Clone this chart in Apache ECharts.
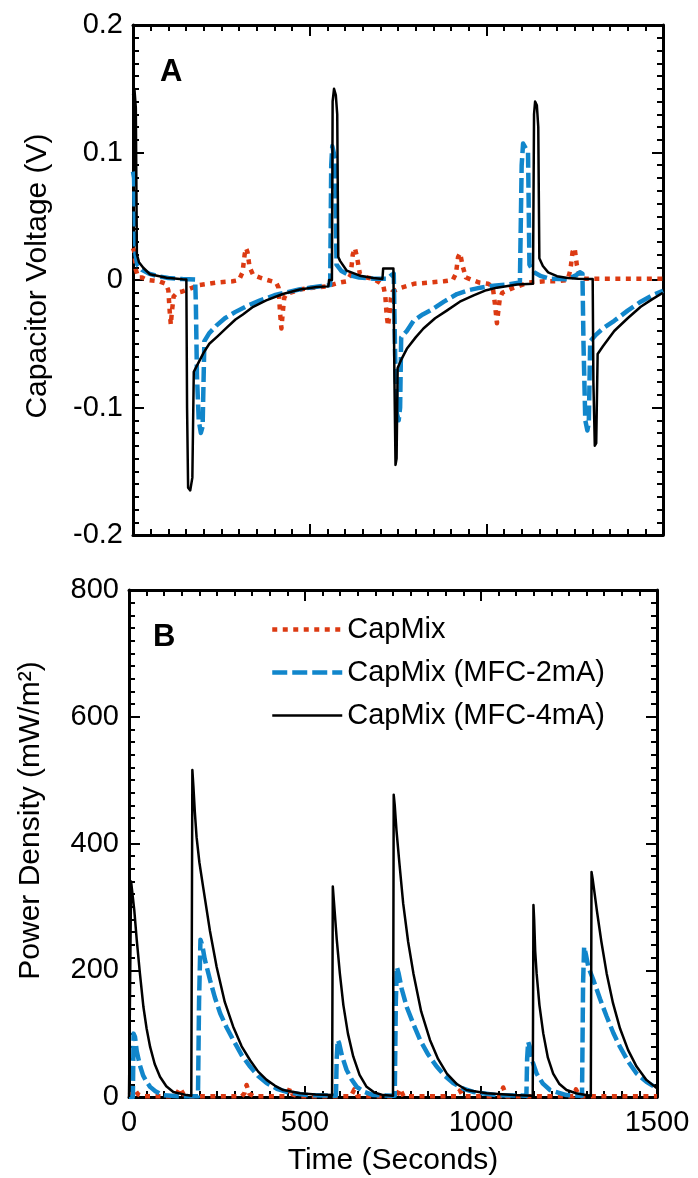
<!DOCTYPE html>
<html>
<head>
<meta charset="utf-8">
<script src="https://cdn.jsdelivr.net/npm/echarts@6/dist/echarts.min.js"></script>
<style>
  html, body { margin: 0; padding: 0; background: #fff; }
  #main { width: 698px; height: 1178px; }
</style>
</head>
<body>
<div id="main"></div>
<script>
// panel A: capacitor voltage [time s, volts]
var voltCapMix = [[0,0.025],[4,0.022],[8,0.008],[15,0.002],[26,0.002],[40,0.0],[74,-0.001],[93,-0.003],[100,-0.008],[104,-0.025],[107,-0.035],[110,-0.025],[115,-0.013],[125,-0.010],[140,-0.009],[187,-0.004],[235,-0.002],[282,-0.001],[300,0.0],[310,0.006],[316,0.02],[320,0.025],[324,0.022],[330,0.01],[340,0.004],[358,0.002],[380,0.0],[405,-0.002],[412,-0.006],[416,-0.025],[420,-0.038],[424,-0.025],[428,-0.014],[434,-0.011],[472,-0.0075],[510,-0.006],[548,-0.005],[585,-0.002],[605,-0.001],[616,0.004],[622,0.02],[628,0.025],[634,0.018],[642,0.005],[661,0.002],[680,0.001],[698,-0.002],[708,-0.004],[714,-0.012],[718,-0.028],[722,-0.036],[726,-0.026],[730,-0.014],[735,-0.009],[760,-0.006],[795,-0.003],[840,-0.002],[880,-0.001],[905,0.0],[914,0.005],[920,0.018],[926,0.021],[932,0.012],[942,0.002],[960,0.0],[980,-0.002],[1005,-0.003],[1018,-0.005],[1024,-0.018],[1030,-0.034],[1034,-0.024],[1038,-0.015],[1045,-0.010],[1078,-0.006],[1120,-0.002],[1164,-0.001],[1200,-0.001],[1230,0.0],[1238,0.008],[1244,0.022],[1250,0.025],[1256,0.012],[1266,0.002],[1280,0.001],[1350,0.001],[1420,0.001],[1500,0.001]];
var voltMfc2 = [[0,0.085],[3,0.08],[7,0.02],[12,0.012],[25,0.008],[45,0.005],[70,0.003],[100,0.0015],[140,0.0007],[176,0.0003],[178,-0.02],[181,-0.075],[186,-0.11],[192,-0.12],[197,-0.115],[202,-0.048],[215,-0.042],[235,-0.036],[260,-0.030],[290,-0.025],[325,-0.020],[360,-0.016],[400,-0.012],[430,-0.010],[470,-0.0075],[500,-0.006],[540,-0.0045],[558,-0.004],[561,0.09],[564,0.105],[568,0.10],[572,0.095],[576,0.012],[590,0.007],[610,0.004],[640,0.002],[680,0.001],[720,0.001],[732,0.004],[738,0.005],[742,-0.06],[747,-0.105],[752,-0.11],[756,-0.10],[759,-0.045],[775,-0.04],[794,-0.032],[820,-0.027],[841,-0.024],[880,-0.017],[917,-0.011],[950,-0.008],[983,-0.006],[1020,-0.0045],[1059,-0.0035],[1095,-0.002],[1100,0.09],[1104,0.107],[1110,0.104],[1118,0.10],[1122,0.012],[1135,0.006],[1155,0.003],[1180,0.001],[1230,0.0005],[1255,0.004],[1265,0.006],[1272,0.005],[1275,-0.05],[1280,-0.11],[1286,-0.118],[1290,-0.112],[1294,-0.048],[1310,-0.043],[1330,-0.038],[1362,-0.032],[1400,-0.024],[1437,-0.017],[1470,-0.012],[1500,-0.0085]];
var voltMfc4 = [[0,0.145],[4,0.15],[8,0.135],[11,0.02],[17,0.014],[29,0.0096],[48,0.0045],[95,0.0018],[140,0.0005],[151,0.0003],[153,-0.10],[156,-0.163],[162,-0.165],[168,-0.155],[172,-0.072],[185,-0.065],[200,-0.057],[216,-0.050],[240,-0.044],[263,-0.038],[290,-0.031],[311,-0.027],[340,-0.021],[377,-0.016],[424,-0.011],[472,-0.0075],[520,-0.0055],[553,-0.005],[555,0.0],[563,0.0],[565,0.14],[569,0.15],[574,0.145],[578,0.13],[581,0.018],[586,0.015],[605,0.0073],[642,0.0034],[680,0.0016],[706,0.0008],[708,0.009],[737,0.009],[740,-0.08],[743,-0.145],[746,-0.14],[749,-0.069],[760,-0.062],[775,-0.054],[800,-0.045],[822,-0.038],[855,-0.030],[888,-0.024],[925,-0.017],[964,-0.012],[1000,-0.008],[1030,-0.006],[1087,-0.0035],[1132,-0.003],[1135,0.13],[1138,0.14],[1143,0.137],[1147,0.12],[1150,0.017],[1160,0.011],[1175,0.006],[1200,0.003],[1230,0.0015],[1260,0.001],[1301,0.0008],[1303,-0.08],[1307,-0.130],[1311,-0.128],[1315,-0.058],[1330,-0.052],[1362,-0.040],[1400,-0.030],[1437,-0.021],[1470,-0.015],[1500,-0.010]];

// panel B: power density [time s, mW/m2]
var powCapMix = [[0,2],[8,5],[17,11],[26,4],[40,1],[120,1],[135,4],[145,14],[155,4],[170,1],[320,1],[328,6],[334,19],[342,5],[355,1],[445,1],[451,5],[457,14],[465,4],[480,1],[630,1],[640,12],[650,1],[760,1],[770,13],[780,1],[930,1],[940,10],[950,1],[1055,1],[1063,15],[1072,1],[1262,1],[1270,12],[1280,1],[1500,1]];
var powMfc2 = [[0,0],[11,0],[13,100],[17,95],[22,72],[31,50],[40,34],[50,24],[60,16],[75,9],[97,3],[140,1],[196,1],[199,150],[203,248],[208,240],[215,218],[230,185],[244,157],[259,132],[277,110],[296,90],[320,66],[344,48],[367,33],[391,22],[420,13],[448,8],[505,3],[588,2],[590,60],[593,90],[597,85],[605,65],[618,43],[632,28],[647,16],[668,8],[694,3],[755,2],[758,150],[761,205],[766,195],[775,170],[789,142],[808,115],[827,90],[850,67],[874,48],[898,33],[921,22],[950,13],[978,8],[1045,3],[1129,2],[1131,60],[1134,87],[1138,80],[1147,55],[1158,37],[1176,21],[1196,11],[1243,3],[1287,2],[1290,180],[1293,237],[1298,225],[1305,205],[1319,185],[1338,155],[1357,127],[1376,101],[1395,79],[1418,56],[1442,37],[1470,24],[1499,14]];
var powMfc4 = [[0,0],[4,0],[6,340],[9,338],[15,295],[22,248],[31,195],[41,142],[50,108],[60,79],[73,52],[88,32],[106,17],[126,8],[164,3],[177,2],[180,516],[183,490],[187,450],[192,410],[200,370],[211,330],[230,262],[249,205],[272,150],[296,111],[320,80],[344,58],[367,40],[391,27],[414,18],[438,11],[486,6],[530,4],[577,3],[579,332],[582,310],[586,280],[590,250],[599,195],[609,145],[622,100],[637,64],[655,35],[675,16],[697,7],[722,3],[750,2],[752,477],[755,460],[760,420],[768,370],[779,305],[793,245],[808,195],[830,135],[855,90],[878,60],[903,37],[930,21],[959,11],[1016,6],[1092,3],[1147,2],[1149,303],[1151,280],[1154,230],[1158,195],[1166,145],[1177,100],[1190,62],[1205,37],[1222,21],[1243,11],[1270,6],[1298,3],[1312,2],[1314,355],[1317,345],[1323,320],[1329,295],[1342,245],[1357,195],[1375,148],[1395,108],[1418,74],[1442,48],[1470,27],[1499,14]];

var seriesNames = ['CapMix', 'CapMix (MFC-2mA)', 'CapMix (MFC-4mA)'];
var timeTicks = [0, 1500, 500];
var voltTicks = [-0.2, 0.2, 0.1];
var powTicks = [0, 800, 200];

var FONT = 'Liberation Sans, Arial, Helvetica, sans-serif';
var black = '#000';

var styles = [
    { color: '#dc3a12', width: 4.5, type: [5, 5.5] },
    { color: '#1186cb', width: 4.5, type: [15, 5] },
    { color: '#000000', width: 2.5, type: 'solid' }
];

function xAxisFor(grid, pos, labels, name) {
    return {
        type: 'value', gridIndex: grid, position: pos,
        min: timeTicks[0], max: timeTicks[1], interval: timeTicks[2],
        name: name || '', nameLocation: 'middle', nameGap: 49,
        nameTextStyle: { fontFamily: FONT, fontSize: 30, color: black },
        axisLine: { show: true, onZero: false, lineStyle: { color: black, width: 3 } },
        axisTick: { show: true, inside: true, length: 11, lineStyle: { color: black, width: 2 } },
        minorTick: { show: true, splitNumber: 10, length: 6, lineStyle: { color: black, width: 2 } },
        splitLine: { show: false },
        axisLabel: { show: labels, margin: 11, fontFamily: FONT, fontSize: 29, color: black,
            formatter: function (v) { return String(v); } }
    };
}

function yAxisFor(grid, pos, ticks, labels, name, gap, shift) {
    return {
        type: 'value', gridIndex: grid, position: pos,
        min: ticks[0], max: ticks[1], interval: ticks[2],
        name: name || '', nameLocation: 'middle', nameRotate: 90, nameGap: gap || 0,
        nameTextStyle: { fontFamily: FONT, fontSize: 30, color: black, padding: [0, 0, 0, shift || 0] },
        axisLine: { show: true, onZero: false, lineStyle: { color: black, width: 3 } },
        axisTick: { show: true, inside: true, length: 11, lineStyle: { color: black, width: 2 } },
        minorTick: { show: true, splitNumber: 10, length: 6, lineStyle: { color: black, width: 2 } },
        splitLine: { show: false },
        axisLabel: { show: labels, margin: 10, fontFamily: FONT, fontSize: 29, color: black }
    };
}

function line(name, data, axis, st) {
    return {
        name: name, type: 'line', data: data,
        xAxisIndex: axis, yAxisIndex: axis,
        symbol: 'none', showSymbol: false, smooth: false,
        lineStyle: { color: st.color, width: st.width, type: st.type, cap: 'butt', join: 'round' },
        itemStyle: { color: st.color },
        emphasis: { disabled: true },
        animation: false
    };
}

var legendItems = seriesNames.map(function (n, i) {
    return {
        name: n,
        itemStyle: { opacity: 0 },
        lineStyle: { color: styles[i].color, width: styles[i].width, type: styles[i].type, cap: 'butt' }
    };
});

var chartDom = document.getElementById('main');
var myChart = echarts.init(chartDom, null, { renderer: 'canvas' });
var option;

option = {
    backgroundColor: '#fff',
    animation: false,
    grid: [
        { left: 133, right: 35, top: 25, height: 510 },
        { left: 129, right: 41, top: 590, height: 507 }
    ],
    xAxis: [
        xAxisFor(0, 'bottom', false),
        xAxisFor(0, 'top', false),
        xAxisFor(1, 'bottom', true, 'Time (Seconds)'),
        xAxisFor(1, 'top', false)
    ],
    yAxis: [
        yAxisFor(0, 'left', voltTicks, true, 'Capacitor Voltage (V)', 80, 8),
        yAxisFor(0, 'right', voltTicks, false),
        yAxisFor(1, 'left', powTicks, true, 'Power Density (mW/m\u00b2)', 83, 46),
        yAxisFor(1, 'right', powTicks, false)
    ],
    legend: {
        data: legendItems,
        orient: 'vertical',
        left: 265, top: 610,
        itemWidth: 70, itemHeight: 14, itemGap: 14,
        textStyle: { fontFamily: FONT, fontSize: 29, color: black },
        selectedMode: false
    },
    graphic: [
        { type: 'text', left: 160, top: 57, style: { text: 'A', font: 'bold 31px ' + FONT, fill: black } },
        { type: 'text', left: 153, top: 622, style: { text: 'B', font: 'bold 31px ' + FONT, fill: black } }
    ],
    series: [
        line(seriesNames[0], voltCapMix, 0, styles[0]),
        line(seriesNames[1], voltMfc2, 0, styles[1]),
        line(seriesNames[2], voltMfc4, 0, styles[2]),
        line(seriesNames[0], powCapMix, 2, styles[0]),
        line(seriesNames[1], powMfc2, 2, styles[1]),
        line(seriesNames[2], powMfc4, 2, styles[2])
    ]
};

option && myChart.setOption(option);
</script>
</body>
</html>
